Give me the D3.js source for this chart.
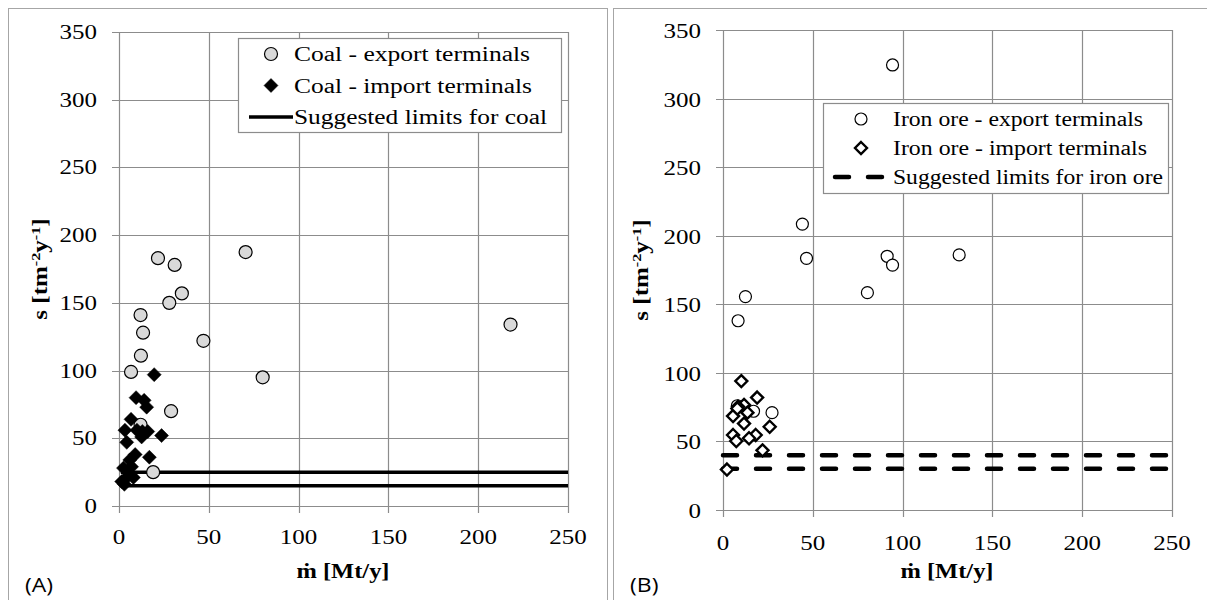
<!DOCTYPE html>
<html>
<head>
<meta charset="utf-8">
<script src="https://cdn.jsdelivr.net/npm/d3@7"></script>
<style>
  body { margin: 0; background: #fff; }
  svg { display: block; }
</style>
</head>
<body>
<svg id="chart" width="1207" height="600"></svg>
<script>
// data: [mass flow Mt/y, s tm-2y-1]
var coalExport = [[21.7,183],[31,178],[35,157],[28,150],[12,141],[13.4,128],[12.2,111],[6.7,99],
                  [47,122],[80,95],[29,70],[12,60],[19,25],[70.5,187.5],[218,134]];
var coalImport = [[19.6,97],[9.5,80],[14,78],[15.4,73],[6.7,64],[3.3,56],[12.6,51],[16,55],[10,56],
                  [23.7,52],[4.3,47],[16.9,36],[9,38],[6,34],[2.5,28],[7,29],[8,21],[1.5,18],[3,16],[5,22],[13,55]];
var coalLimits = [25, 15];
var coalLimitRange = [1, 250];

var ironExport = [[94.4,324.5],[44.2,208.5],[46.5,183.5],[91.4,185],[94.4,178.6],[80.4,158.5],
                  [12.5,155.6],[131.5,186],[8.4,138],[27.3,71],[17,72],[8,76]];
var ironImport = [[10.2,94],[19,82],[11.7,76.6],[8.4,75.3],[13.6,71],[5.6,68.5],[11.7,63],[26,60.7],
                  [5.6,54.7],[18.2,54.7],[14.5,52.3],[7.4,50.3],[22,43.5],[2.2,29.5],[8,74]];
var ironLimits = [40, 30];
var ironLimitRange = [0, 250];

var xTicks = [0, 50, 100, 150, 200, 250];
var yTicks = [0, 50, 100, 150, 200, 250, 300, 350];

var legendCoal = ['Coal - export terminals', 'Coal - import terminals', 'Suggested limits for coal'];
var legendIron = ['Iron ore - export terminals', 'Iron ore - import terminals', 'Suggested limits for iron ore'];

var serif = "'Liberation Serif', 'DejaVu Serif', serif";
var stretch = 1.25;   // the original text is set wider than Liberation Serif
var svg = d3.select('#chart');
var gridColor = '#8c8c8c';

// panel frames
svg.append('rect').attr('x', 8.5).attr('y', 8.5).attr('width', 599).attr('height', 600)
  .attr('fill', 'none').attr('stroke', '#a6a6a6');
svg.append('rect').attr('x', 613.5).attr('y', 8.5).attr('width', 600).attr('height', 600)
  .attr('fill', 'none').attr('stroke', '#a6a6a6');

// text placed at (x,y), widened along its own direction
function txt(sel, size, fx, fy) {
  return sel.attr('font-family', serif).attr('font-size', size).attr('fill', '#000')
    .attr('transform', function (d, i) {
      return 'translate(' + fx(d, i) + ',' + fy(d, i) + ') scale(' + stretch + ',1)';
    });
}

function drawPanel(opt) {
  var g = svg.append('g');
  var x = d3.scaleLinear().domain([0, 250]).range([opt.left, opt.right]);
  var y = d3.scaleLinear().domain([0, 350]).range([opt.bottom, opt.top]);

  // grid
  g.selectAll('.vgrid').data(xTicks).enter().append('line')
    .attr('x1', function (d) { return Math.round(x(d)) + 0.5; })
    .attr('x2', function (d) { return Math.round(x(d)) + 0.5; })
    .attr('y1', opt.top).attr('y2', opt.bottom + 7)
    .attr('stroke', gridColor).attr('stroke-width', 1.2);
  g.selectAll('.hgrid').data(yTicks).enter().append('line')
    .attr('y1', function (d) { return Math.round(y(d)) + 0.5; })
    .attr('y2', function (d) { return Math.round(y(d)) + 0.5; })
    .attr('x1', opt.left - 7).attr('x2', opt.right)
    .attr('stroke', gridColor).attr('stroke-width', 1.2);

  // tick labels
  txt(g.selectAll('.xlab').data(xTicks).enter().append('text'), 20,
      function (d) { return x(d); }, function () { return opt.bottom + opt.xlabDy; })
    .attr('text-anchor', 'middle')
    .text(function (d) { return d; });
  txt(g.selectAll('.ylab').data(yTicks).enter().append('text'), 20,
      function () { return opt.left - 22; }, function (d) { return y(d) + opt.ylabDy; })
    .attr('text-anchor', 'end')
    .text(function (d) { return d; });

  // axis titles
  g.append('text').attr('x', opt.left + (opt.right - opt.left) / 2 - 47).attr('y', opt.xtitleY)
    .attr('font-family', serif).attr('font-size', 20).attr('font-weight', 'bold')
    .attr('textLength', 93).attr('lengthAdjust', 'spacingAndGlyphs')
    .text('\u1E41 [Mt/y]');
  var yt = g.append('text')
    .attr('font-family', serif).attr('font-size', 20).attr('font-weight', 'bold')
    .attr('transform', 'translate(' + opt.ytitleX + ',' + ((opt.top + opt.bottom) / 2) + ') rotate(-90) scale(' + stretch + ',1)')
    .attr('text-anchor', 'middle');
  yt.append('tspan').text('s [tm');
  yt.append('tspan').attr('dy', -7).attr('font-size', 13).text('-2');
  yt.append('tspan').attr('dy', 7).text('y');
  yt.append('tspan').attr('dy', -7).attr('font-size', 13).text('-1');
  yt.append('tspan').attr('dy', 7).text(']');

  // panel letter
  svg.append('text')
    .attr('transform', 'translate(' + opt.letterX + ',592) scale(1.15,1)')
    .attr('font-family', "'Open Sans', 'Liberation Sans', sans-serif").attr('font-size', 20)
    .text(opt.letter);

  // limit lines
  g.selectAll('.limit').data(opt.limits).enter().append('line')
    .attr('x1', x(opt.limitRange[0])).attr('x2', x(opt.limitRange[1]))
    .attr('y1', function (d) { return y(d); }).attr('y2', function (d) { return y(d); })
    .attr('stroke', '#000').attr('stroke-width', opt.lineWidth)
    .attr('stroke-linecap', opt.dashed ? 'round' : 'butt')
    .attr('stroke-dasharray', opt.dashed ? '14,19' : null);

  var diamond = function (r) { return 'M0,' + (-r) + 'L' + r + ',0L0,' + r + 'L' + (-r) + ',0Z'; };

  g.selectAll('.exp').data(opt.exportData).enter().append('circle')
    .attr('cx', function (d) { return x(d[0]); }).attr('cy', function (d) { return y(d[1]); })
    .attr('r', opt.circleR).attr('fill', opt.circleFill).attr('stroke', '#000').attr('stroke-width', 1.2);

  g.selectAll('.imp').data(opt.importData).enter().append('path')
    .attr('transform', function (d) { return 'translate(' + x(d[0]) + ',' + y(d[1]) + ')'; })
    .attr('d', diamond(opt.diamondR))
    .attr('fill', opt.diamondFill).attr('stroke', '#000').attr('stroke-width', opt.diamondStroke);

  // legend
  var lg = g.append('g');
  lg.append('rect').attr('x', opt.legend.x + 0.5).attr('y', opt.legend.y + 0.5)
    .attr('width', opt.legend.w).attr('height', opt.legend.h)
    .attr('fill', '#fff').attr('stroke', gridColor).attr('stroke-width', 1.2);
  var rowY = function (i) { return opt.legend.y + opt.legend.first + i * opt.legend.step; };
  lg.append('circle').attr('cx', opt.legend.x + opt.legend.mx).attr('cy', rowY(0))
    .attr('r', opt.circleR).attr('fill', opt.circleFill).attr('stroke', '#000').attr('stroke-width', 1.2);
  lg.append('path')
    .attr('transform', 'translate(' + (opt.legend.x + opt.legend.mx) + ',' + rowY(1) + ')')
    .attr('d', diamond(opt.diamondR)).attr('fill', opt.diamondFill)
    .attr('stroke', '#000').attr('stroke-width', opt.diamondStroke);
  lg.append('line')
    .attr('x1', opt.legend.x + opt.legend.lx[0]).attr('x2', opt.legend.x + opt.legend.lx[1])
    .attr('y1', rowY(2)).attr('y2', rowY(2))
    .attr('stroke', '#000').attr('stroke-width', opt.lineWidth)
    .attr('stroke-linecap', opt.dashed ? 'round' : 'butt')
    .attr('stroke-dasharray', opt.dashed ? '14,19' : null);
  lg.selectAll('.ltxt').data(opt.legendText).enter().append('text')
    .attr('x', opt.legend.x + opt.legend.tx).attr('y', function (d, i) { return rowY(i) + 7; })
    .attr('font-family', serif).attr('font-size', 20)
    .attr('textLength', function (d, i) { return opt.legend.tw[i]; })
    .attr('lengthAdjust', 'spacingAndGlyphs')
    .text(function (d) { return d; });
}

drawPanel({
  left: 119, right: 568, top: 32, bottom: 506,
  xlabDy: 38, ylabDy: 7, xtitleY: 578, ytitleX: 47,
  exportData: coalExport, importData: coalImport,
  limits: coalLimits, limitRange: coalLimitRange,
  circleR: 6.5, circleFill: '#d9d9d9',
  diamondR: 7, diamondFill: '#000', diamondStroke: 0.5,
  lineWidth: 3.5, dashed: false,
  letter: '(A)', letterX: 25,
  legendText: legendCoal,
  legend: { x: 238, y: 38, w: 323, h: 94, first: 16, step: 31.5, mx: 33, lx: [11, 55], tx: 56,
            tw: [236, 238, 253] }
});

drawPanel({
  left: 723, right: 1172, top: 30, bottom: 510,
  xlabDy: 40, ylabDy: 8, xtitleY: 578, ytitleX: 648,
  exportData: ironExport, importData: ironImport,
  limits: ironLimits, limitRange: ironLimitRange,
  circleR: 6, circleFill: '#fff',
  diamondR: 6, diamondFill: '#fff', diamondStroke: 2.4,
  lineWidth: 4.5, dashed: true,
  letter: '(B)', letterX: 630,
  legendText: legendIron,
  legend: { x: 823, y: 103, w: 345, h: 90, first: 16, step: 29, mx: 38, lx: [12, 60], tx: 70,
            tw: [250, 254, 270] }
});
</script>
</body>
</html>
